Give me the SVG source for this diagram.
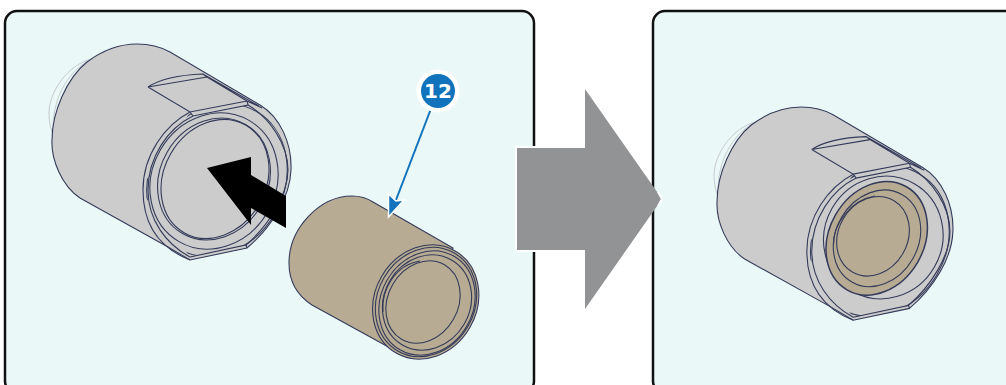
<svg xmlns="http://www.w3.org/2000/svg" width="1006" height="385" viewBox="0 0 1006 385">
<style>
.panel{fill:#ebf8f8;stroke:#111;stroke-width:2.5}
.ln{fill:none;stroke:#343b5a;stroke-width:1.1}
.gh{fill:none;stroke:#c4c9cd;stroke-width:1}
.gray{fill:#cccccc;stroke:#343b5a;stroke-width:1.1}
.tan{fill:#b7ab93;stroke:#343b5a;stroke-width:1.1}
</style>
<defs>
<clipPath id="face"><path d="M140 190L190 112L193 116L248 105L300 110V250L247 245L190 257Z"/></clipPath>
<g id="big">
<path class="gh" d="M92 59C68 64 49 92 49 113C49 120 50 126 52 132M88 61C72 70 54 92 53 126"/>
<path class="gray" d="M87 62C103 50 120 44 137 44C150 44 161 47 170 52L260 105C280 117 292 143 291 170C290 197 272 227 247 248L190 260L168 247L80 198C62 186 51 160 52 140C52 112 67 78 87 62Z"/>
<path class="ln" d="M148 87C160 79 178 75 203 74L259 106M203 74L207 77L247 101M148 87L207 77M148 87L190 112L247 101M190 112L193 116L248 105L247 101L262 108M190 257L246 245L247 248M190 112C165 125 143 155 143 190C143 222 157 247 190 260"/>
<g clip-path="url(#face)">
<ellipse class="ln" cx="217" cy="180" rx="79" ry="67" transform="rotate(-60 217 180)"/>
</g>
<path class="ln" d="M193 116C168 128 148 157 148 190C148 220 166 244 190 257M248 105C270 118 288 145 288 170C288 195 268 226 246 245"/>
</g>
</defs>
<rect class="panel" x="5" y="11" width="529" height="382" rx="12"/>
<rect class="panel" x="653" y="11" width="380" height="382" rx="12"/>
<g id="housing-left">
<use href="#big"/>
<ellipse class="ln" cx="214" cy="181" rx="70" ry="62" transform="rotate(-60 214 181)"/>
<ellipse class="ln" cx="215" cy="179" rx="62" ry="51" transform="rotate(-60 215 179)"/>
<ellipse class="ln" cx="214" cy="179" rx="63" ry="54" transform="rotate(-60 214 179)"/>
<polygon id="insert-arrow" points="207,168 251,157 251,175 286,196 286,228 251,208 251,225" fill="#000"/>
</g>
<g id="sleeve-left">
<path class="tan" d="M352 196C360 196 367 198 373 202L453 248L420 358C413 359 408 358 403 355L312 305C298 296 289 282 289 263C289 228 320 196 352 196Z"/>
<ellipse class="tan" cx="425.700" cy="302" rx="59" ry="51" transform="rotate(-60 425.700 302)"/>
<ellipse class="ln" cx="426" cy="302" rx="56.500" ry="48.500" transform="rotate(-60 426 302)"/>
<ellipse class="ln" cx="427" cy="303" rx="54" ry="46" transform="rotate(-60 427 303)"/>
<ellipse class="ln" cx="427" cy="302.500" rx="49" ry="43" transform="rotate(-60 427 302.500)"/>
<ellipse class="ln" cx="423" cy="302" rx="43" ry="35" transform="rotate(-60 423 302)"/>
<path class="ln" d="M383 312C381 290 395 265 420 261"/>
</g>
<g id="assembly-right">
<use href="#big" transform="matrix(.987 0 0 .987 665.700 63.600)"/>
<ellipse class="ln" cx="883.300" cy="237.500" rx="62" ry="59" transform="rotate(-60 883.300 237.500)"/>
<ellipse cx="876.700" cy="238.300" rx="59.500" ry="47.400" transform="rotate(-60 876.700 238.300)" fill="#b7ab93" stroke="#343b5a" stroke-width="1.500"/>
<ellipse class="ln" cx="877" cy="238.300" rx="50.400" ry="41.200" transform="rotate(-60 877 238.300)"/>
<ellipse class="ln" cx="873" cy="236.300" rx="41.300" ry="34.500" transform="rotate(-60 873 236.300)"/>
<path class="ln" d="M833.500 245C833 225 850 200 875 196"/>
</g>
<g id="connectors">
<path d="M516 147H585V89L662 199L585 309V251H516Z" fill="#929394"/>
<path d="M585 147H516V251H585M658 192L662 199L658 206" fill="none" stroke="#fff" stroke-width="2"/>
<line x1="432" y1="106" x2="396" y2="200" stroke="#1173bb" stroke-width="2"/>
<path d="M388.500 217L388.500 194L396 201L404 200Z" fill="#1173bb" stroke="#fff" stroke-width="1.500"/>
</g>
<g id="badge">
<circle cx="438" cy="91" r="21.500" fill="#fff"/>
<circle cx="438" cy="91" r="17" fill="#1173bb"/>
<text x="438" y="98" text-anchor="middle" font-family="'DejaVu Sans',sans-serif" font-weight="700" font-size="20" fill="#fff">12</text>
</g>
</svg>
